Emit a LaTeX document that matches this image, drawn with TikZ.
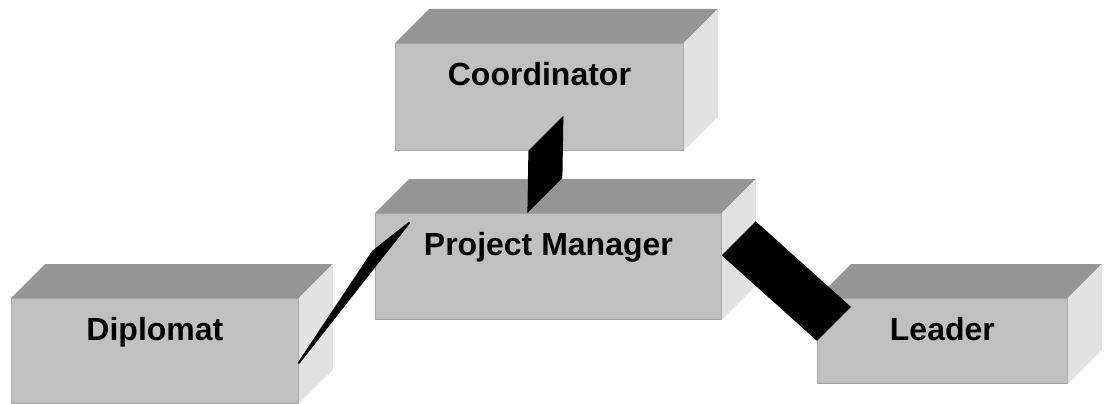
\documentclass[tikz,border=0pt]{standalone}
\usepackage{fontspec}
\setmainfont{Liberation Sans}
\usetikzlibrary{positioning}

\definecolor{frontgray}{HTML}{C0C0C0}
\definecolor{rimgray}{HTML}{A6A6A6}
\definecolor{topgray}{HTML}{969696}
\definecolor{sidegray}{HTML}{E2E2E2}

\newcommand{\boxsides}[1]{%
	\fill[topgray] (#1.north west) -- ++(34,-34) -- ([shift={(34,-34)}]#1.north east) -- (#1.north east) -- cycle;
	\fill[sidegray] (#1.north east) -- ++(34,-34) -- ([shift={(34,-34)}]#1.south east) -- (#1.south east) -- cycle;
}

\begin{document}
\begin{tikzpicture}[x=1pt, y=-1pt,
	face/.style 2 args={draw=rimgray, line width=0.8pt, fill=frontgray, anchor=north west,
		inner xsep=0pt, inner ysep=20pt, minimum width=#1, text height=22pt, text depth=#2,
		font=\fontsize{32}{38}\selectfont\bfseries}]
	\useasboundingbox (0,0) rectangle (1104,404);
	\node (coord) [face={288pt}{45pt}] at (395,43) {Coordinator};
	\node (pm) [face={346pt}{44pt}] at (375,213) {Project Manager};
	\node (dipl) [face={287pt}{43pt}] at (11,298) {Diplomat};
	\node (lead) [face={250pt}{23pt}] at (817,298) {Leader};
	\boxsides{coord}
	\boxsides{pm}
	\boxsides{dipl}
	\boxsides{lead}
	% links
	\coordinate (c1) at ([xshift=-11pt]coord.south);
	\coordinate (c2) at ([xshift=-21pt]pm.north);
	\coordinate (l1) at ([yshift=11pt]pm.east);
	\coordinate (d1) at ([yshift=-12pt]dipl.east);
	\coordinate (d2) at ([shift={(34,10)}]pm.north west);
	\fill (c1) -- ++(35,-35) -- ([shift={(35,-35)}]c2) -- (c2) -- cycle;
	\fill (l1) -- ++(34,-34) -- ([shift={(34,-34)}]lead.west) -- (lead.west) -- cycle;
	\fill[line width=2pt, draw, line join=round] (d1) -- ([shift={(-2,-15)}]pm.west) -- (d2) -- ([shift={(2,-3)}]pm.west) -- cycle;
\end{tikzpicture}
\end{document}
